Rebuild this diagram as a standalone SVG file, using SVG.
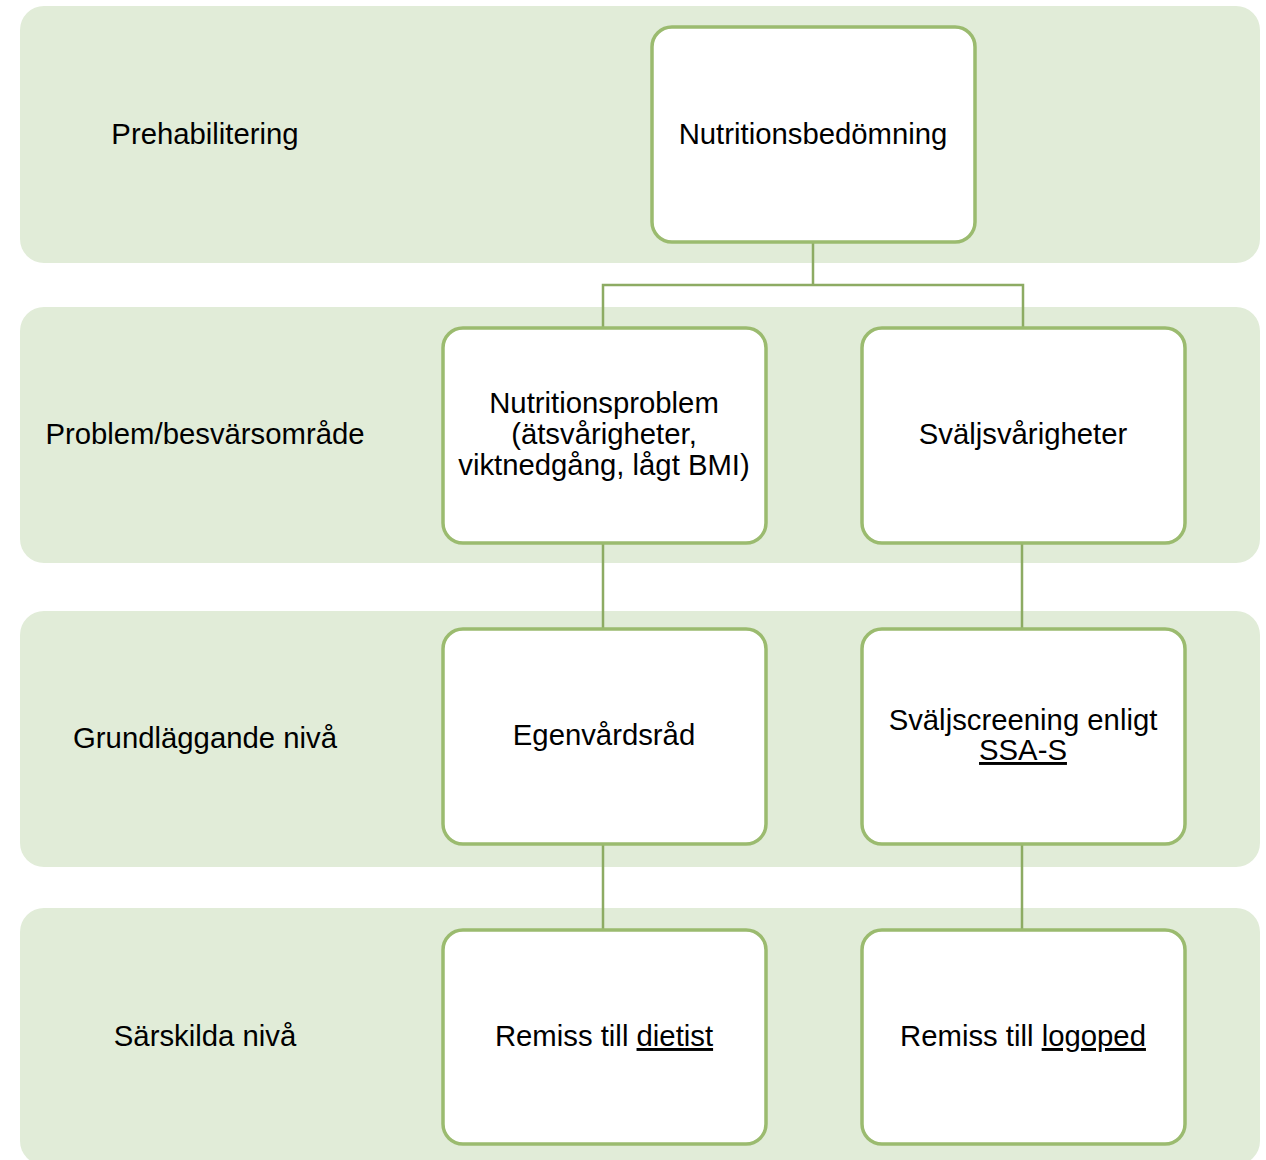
<svg xmlns="http://www.w3.org/2000/svg" width="1266" height="1160" viewBox="0 0 1266 1160">
<style>
.band{fill:#e1ecd8;}
.node{fill:#ffffff;stroke:#9bbb6f;stroke-width:3.5;}
.conn{fill:none;stroke:#8dab63;stroke-width:2.5;}
text{font-family:"Liberation Sans",Arial,sans-serif;font-size:29.3px;fill:#000;text-anchor:middle;}
</style>
<rect width="1266" height="1160" fill="#ffffff"/>
<g id="bands">
<g id="band-prehab"><rect class="band" x="20" y="6" width="1240" height="257" rx="24"/><text x="205" y="144">Prehabilitering</text></g>
<g id="band-problem"><rect class="band" x="20" y="307" width="1240" height="256" rx="24"/><text x="205" y="444">Problem/besvärsområde</text></g>
<g id="band-grund"><rect class="band" x="20" y="611" width="1240" height="256" rx="24"/><text x="205" y="748">Grundläggande nivå</text></g>
<g id="band-sarskild"><rect class="band" x="20" y="908" width="1240" height="257" rx="24"/><text x="205" y="1046">Särskilda nivå</text></g>
</g>
<g id="connectors">
<path class="conn" d="M813 242 V285 M603 328 V285 H1023 V328"/>
<path class="conn" d="M603 543 V629 M1022 543 V629 M603 844 V930 M1022 844 V930"/>
</g>
<g id="n-nutritionsbedomning"><rect class="node" x="652" y="27" width="323" height="215" rx="20"/><text x="813" y="144">Nutritionsbedömning</text></g>
<g id="n-nutritionsproblem"><rect class="node" x="443" y="328" width="323" height="215" rx="20"/><text x="604" y="413">Nutritionsproblem</text><text x="604" y="444">(ätsvårigheter,</text><text x="604" y="475">viktnedgång, lågt BMI)</text></g>
<g id="n-svaljsvarigheter"><rect class="node" x="862" y="328" width="323" height="215" rx="20"/><text x="1023" y="444">Sväljsvårigheter</text></g>
<g id="n-egenvardsrad"><rect class="node" x="443" y="629" width="323" height="215" rx="20"/><text x="604" y="745">Egenvårdsråd</text></g>
<g id="n-svaljscreening"><rect class="node" x="862" y="629" width="323" height="215" rx="20"/><text x="1023" y="730">Sväljscreening enligt</text><text x="1023" y="760" text-decoration="underline">SSA-S</text></g>
<g id="n-remiss-dietist"><rect class="node" x="443" y="930" width="323" height="214" rx="20"/><text x="604" y="1046">Remiss till <tspan text-decoration="underline">dietist</tspan></text></g>
<g id="n-remiss-logoped"><rect class="node" x="862" y="930" width="323" height="214" rx="20"/><text x="1023" y="1046">Remiss till <tspan text-decoration="underline">logoped</tspan></text></g>
</svg>
